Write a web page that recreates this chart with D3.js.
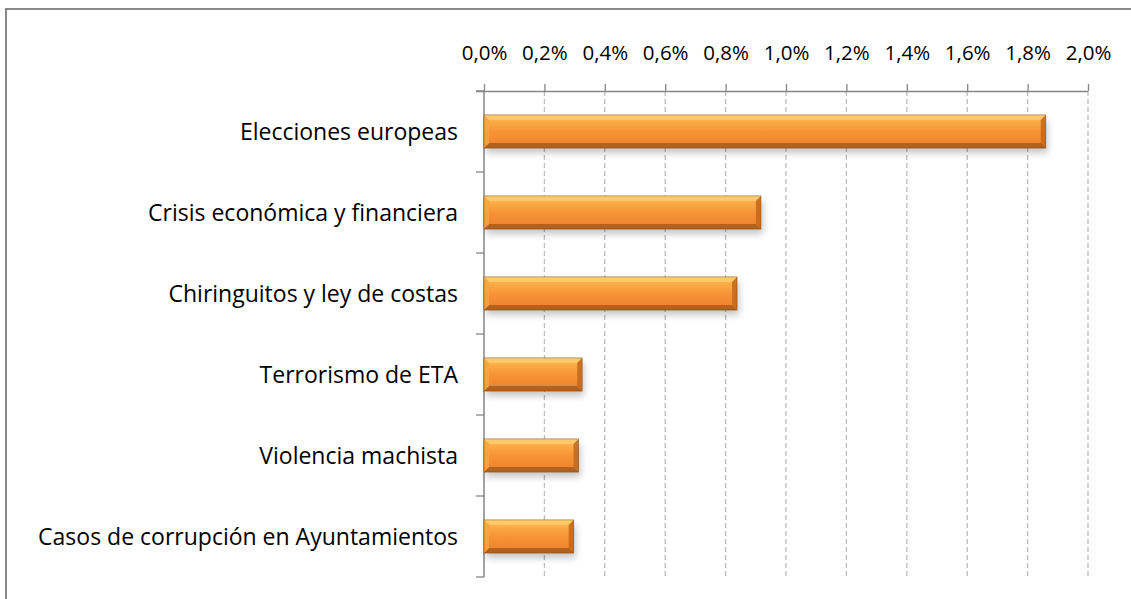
<!DOCTYPE html>
<html>
<head>
<meta charset="utf-8">
<script src="https://cdn.jsdelivr.net/npm/d3@7"></script>
<style>
  html, body { margin: 0; padding: 0; background: #fff; }
  svg { display: block; font-family: "Open Sans", sans-serif; }
</style>
</head>
<body>
<svg id="chart" width="1131" height="599"></svg>
<script>
// Topics and their share of coverage (fraction)
const categories = [
  "Elecciones europeas",
  "Crisis económica y financiera",
  "Chiringuitos y ley de costas",
  "Terrorismo de ETA",
  "Violencia machista",
  "Casos de corrupción en Ayuntamientos"
];
const values = [0.0186, 0.00917, 0.00838, 0.00325, 0.00313, 0.00297];
const tickValues = [0, 0.002, 0.004, 0.006, 0.008, 0.010, 0.012, 0.014, 0.016, 0.018, 0.020];

const svg = d3.select("#chart");
const margin = { left: 484, right: 43, top: 91, bottom: 22 };
const W = 1131, H = 599;

// chart frame
svg.append("rect")
  .attr("x", 6).attr("y", 9)
  .attr("width", 1140).attr("height", 620)
  .attr("fill", "none").attr("stroke", "#898989").attr("stroke-width", 2);

const x = d3.scaleLinear().domain([0, 0.02]).range([margin.left, W - margin.right]);
const y = d3.scaleBand().domain(categories).range([margin.top, H - margin.bottom]).paddingInner(0.59).paddingOuter(0.295);

const defs = svg.append("defs");
const grad = defs.append("linearGradient").attr("id", "barFill").attr("x1", 0).attr("y1", 0).attr("x2", 0).attr("y2", 1);
[[0, "#fcc563"], [0.18, "#fbae48"], [0.5, "#f79436"], [0.85, "#ef862e"], [1, "#d67424"]]
  .forEach(([o, c]) => grad.append("stop").attr("offset", o).attr("stop-color", c));
const shadow = defs.append("filter").attr("id", "shadow").attr("x", "-5%").attr("y", "-40%").attr("width", "115%").attr("height", "200%");
shadow.append("feGaussianBlur").attr("stdDeviation", 3.5);

// vertical dashed gridlines
svg.append("g").selectAll("line")
  .data(tickValues.slice(1))
  .join("line")
  .attr("x1", d => x(d)).attr("x2", d => x(d))
  .attr("y1", margin.top).attr("y2", H - margin.bottom)
  .attr("stroke", "#bdbdbd").attr("stroke-width", 1.3)
  .attr("stroke-dasharray", "5,3");

// top value axis
const fmt = d => d3.format(".1f")(d * 100).replace(".", ",") + "%";
const xAxis = svg.append("g")
  .attr("transform", `translate(0,${margin.top})`)
  .call(d3.axisTop(x).tickValues(tickValues).tickFormat(fmt).tickSize(7).tickSizeOuter(0).tickPadding(24));
xAxis.select(".domain").attr("stroke", "#868686").attr("stroke-width", 1.5).attr("d", `M${margin.left - 8},0.5H${x(0.02)}`);
xAxis.selectAll(".tick line").attr("stroke", "#868686").attr("stroke-width", 1.3);
xAxis.selectAll(".tick text").attr("fill", "#000").style("font-size", "20.5px").style("font-family", "'Open Sans', sans-serif");

// left category axis with ticks between categories
const bounds = d3.range(categories.length + 1).map(i => margin.top + i * y.step());
const leftAxis = svg.append("g");
leftAxis.append("line")
  .attr("x1", margin.left).attr("x2", margin.left)
  .attr("y1", margin.top).attr("y2", H - margin.bottom)
  .attr("stroke", "#868686").attr("stroke-width", 1.5);
leftAxis.selectAll("line.tk").data(bounds).join("line").attr("class", "tk")
  .attr("x1", margin.left - 8).attr("x2", margin.left)
  .attr("y1", d => d).attr("y2", d => d)
  .attr("stroke", "#868686").attr("stroke-width", 1.3);
leftAxis.selectAll("text").data(categories).join("text")
  .attr("x", margin.left - 26)
  .attr("y", d => y(d) + y.bandwidth() / 2)
  .attr("dy", "0.35em")
  .attr("text-anchor", "end")
  .attr("fill", "#000")
  .style("font-size", "23px")
  .text(d => d);

// bars
const bars = svg.append("g").selectAll("g").data(categories).join("g");
bars.append("rect")
  .attr("x", x(0) + 2).attr("y", d => y(d) + 5)
  .attr("width", (d, i) => x(values[i]) - x(0))
  .attr("height", y.bandwidth())
  .attr("fill", "#000").attr("opacity", 0.22)
  .attr("filter", "url(#shadow)");
bars.append("rect")
  .attr("x", x(0)).attr("y", d => y(d))
  .attr("width", (d, i) => x(values[i]) - x(0))
  .attr("height", y.bandwidth())
  .attr("fill", "url(#barFill)");
// bevel: bright top edge, dark bottom and right edges
const bev = 5;
bars.append("path")
  .attr("d", (d, i) => {
    const x0 = x(0), x1 = x(values[i]), y0 = y(d);
    return `M${x0},${y0}H${x1}L${x1 - bev},${y0 + bev}H${x0 + bev}Z`;
  })
  .attr("fill", "#fdd074").attr("opacity", 0.7);
bars.append("path")
  .attr("d", (d, i) => {
    const x0 = x(0), x1 = x(values[i]), y0 = y(d), y1 = y0 + y.bandwidth();
    return `M${x0},${y1}H${x1}L${x1 - bev},${y1 - bev}H${x0 + bev}Z`;
  })
  .attr("fill", "#a85d1c").attr("opacity", 0.85);
bars.append("path")
  .attr("d", (d, i) => {
    const x1 = x(values[i]), y0 = y(d), y1 = y0 + y.bandwidth();
    return `M${x1},${y0}V${y1}L${x1 - bev},${y1 - bev}V${y0 + bev}Z`;
  })
  .attr("fill", "#c46a1f").attr("opacity", 0.9);
bars.append("path")
  .attr("d", (d, i) => {
    const x0 = x(0), y0 = y(d), y1 = y0 + y.bandwidth();
    return `M${x0},${y0}V${y1}L${x0 + bev},${y1 - bev}V${y0 + bev}Z`;
  })
  .attr("fill", "#f9a445").attr("opacity", 0.8);
bars.append("rect")
  .attr("x", x(0)).attr("y", d => y(d))
  .attr("width", (d, i) => x(values[i]) - x(0))
  .attr("height", y.bandwidth())
  .attr("fill", "none").attr("stroke", "#7a4413").attr("stroke-width", 0.8).attr("stroke-opacity", 0.6);
</script>
</body>
</html>
